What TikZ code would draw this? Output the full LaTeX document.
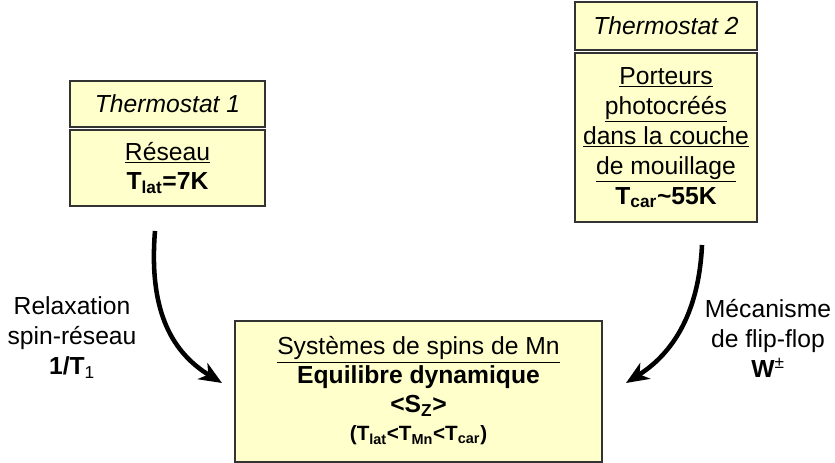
\documentclass[tikz,border=0pt]{standalone}
\usepackage{fontspec}
\setmainfont{Liberation Sans}
\usetikzlibrary{arrows.meta}
\definecolor{boxfill}{HTML}{FFFFCC}
\definecolor{boxline}{HTML}{333333}
\tikzset{
  cadre/.style={draw=boxline,line width=1.5pt,fill=boxfill,align=center,
    inner sep=0pt,font=\fontsize{18.5}{21.5}\selectfont},
  legende/.style={align=center,font=\fontsize{18.5}{22.5}\selectfont},
  flux/.style={line width=3.4pt,-{Stealth[length=17pt,width=14pt,inset=5pt]}}
}
\begin{document}
\begin{tikzpicture}[x=0.75pt,y=-0.75pt]
  \useasboundingbox (0,0) rectangle (835,463);
  % thermostat 1
  \node[cadre,minimum width=146.25pt,minimum height=34.5pt] (therm1) at (167.5,104)
    {\textit{Thermostat 1}};
  \node[cadre,minimum width=146.25pt,minimum height=57pt] (reseau) at (167.5,168)
    {\underline{Réseau}\\ \textbf{T\textsubscript{lat}=7K}};
  % thermostat 2
  \node[cadre,minimum width=136.5pt,minimum height=36pt] (therm2) at (666,26)
    {\textit{Thermostat 2}};
  \node[cadre,minimum width=136.5pt,minimum height=126.75pt,
    font=\fontsize{18.5}{22.5}\selectfont] (porteurs) at (666,137.5)
    {\underline{Porteurs}\\ \underline{photocréés}\\ \underline{dans la couche}\\
     \underline{de mouillage}\\ \textbf{T\textsubscript{car}\textasciitilde 55K}};
  % spins Mn
  \node[cadre,minimum width=275.25pt,minimum height=105.75pt] (spins) at (418.5,391)
    {\underline{Systèmes de spins de Mn}\\ \textbf{Equilibre dynamique}\\
     \textbf{<S\textsubscript{Z}>}\\
     {\fontsize{15.5}{18}\selectfont\textbf{(T\textsubscript{lat}<T\textsubscript{Mn}<T\textsubscript{car})}}};
  % legendes
  \node[legende] (relax) at (72,338) {Relaxation\\ spin-réseau\\ \textbf{1/T}\textsubscript{1}};
  \node[legende] (flip) at (768,338) {Mécanisme\\ de flip-flop\\ \textbf{W}\textsuperscript{±}};
  % fleches
  \coordinate (d1) at (155,231);
  \coordinate (d2) at (702,245);
  \coordinate (f1) at (222,383);
  \coordinate (f2) at (626,383);
  \draw[flux] (d1) .. controls (149,305) and (168,350) .. (f1);
  \draw[flux] (d2) .. controls (699,310) and (675,352) .. (f2);
\end{tikzpicture}
\end{document}
